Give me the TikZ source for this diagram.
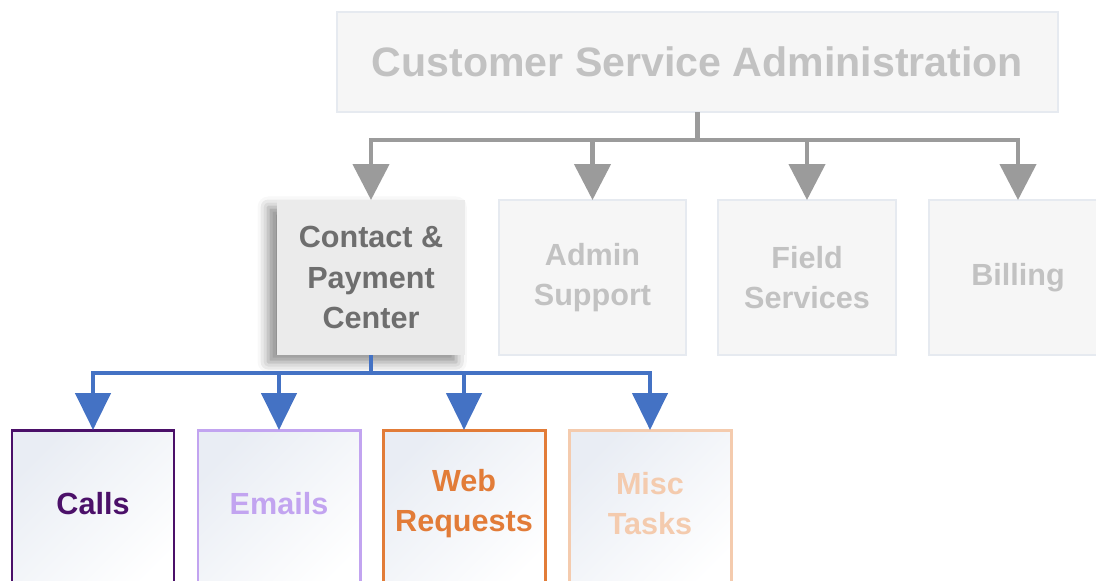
\documentclass[tikz,border=0pt]{standalone}
\usepackage{fontspec}
\setmainfont{Liberation Sans}
\definecolor{PaleFill}{HTML}{F6F6F6}
\definecolor{PaleEdge}{HTML}{E6EAF0}
\definecolor{PaleText}{HTML}{C2C2C2}
\definecolor{CenterFill}{HTML}{EBEBEB}
\definecolor{CenterText}{HTML}{6E6E6E}
\definecolor{LineGray}{HTML}{9B9B9B}
\definecolor{LineBlue}{HTML}{4472C4}
\definecolor{TaskShade}{HTML}{E9EDF4}
\definecolor{CallsPurple}{HTML}{4B1069}
\definecolor{EmailsLilac}{HTML}{C2A4F0}
\definecolor{WebOrange}{HTML}{E27C38}
\definecolor{MiscPeach}{HTML}{F4CBAE}
\usetikzlibrary{arrows.meta,positioning,shadows.blur}

\begin{document}
\begin{tikzpicture}[
  font=\bfseries\fontsize{17.4}{22.8}\selectfont,
  box/.style={align=center, inner sep=0pt, outer sep=0pt, minimum height=3.1cm, anchor=north west},
  dimbox/.style={box, draw=PaleEdge, line width=1.1pt, fill=PaleFill, text=PaleText},
  taskbox/.style={box, line width=1.7pt, minimum width=3.24cm, minimum height=3.4cm,
    top color=TaskShade, bottom color=white, shading angle=45},
  tasktext/.style={yshift=0.22cm},
  grayarrow/.style={draw=LineGray, line width=2.6pt, -{Triangle[length=0.72cm,width=0.72cm]}},
  bluearrow/.style={draw=LineBlue, line width=2.6pt, -{Triangle[length=0.74cm,width=0.7cm]}}
 ]

 \clip (0,0) rectangle (21.92,-11.6);

 % top level
 \node (csa) [dimbox, minimum width=14.42cm, minimum height=2cm,
   font=\bfseries\fontsize{23.4}{28}\selectfont] at (6.74,-0.24) {Customer Service Administration};

 % departments
 \node (contact) [box, minimum width=3.76cm, fill=CenterFill, text=CenterText,
   blur shadow={shadow xshift=-5pt, shadow yshift=-4pt, shadow blur radius=6pt, shadow opacity=45}]
   at (5.54,-4.0) {Contact \&\\Payment\\Center};
 \node (admin) [dimbox, minimum width=3.74cm, right=0.68cm of contact] {Admin\\Support};
 \node (field) [dimbox, minimum width=3.56cm, right=0.64cm of admin] {Field\\Services};
 \node (billing) [dimbox, minimum width=3.56cm, right=0.66cm of field] {Billing};

 % tasks
 \node (calls) [taskbox, draw=CallsPurple,
   label={[tasktext, text=CallsPurple]center:Calls}] at (0.24,-8.6) {};
 \node (emails) [taskbox, draw=EmailsLilac, right=0.48cm of calls,
   label={[tasktext, text=EmailsLilac]center:Emails}] {};
 \node (web) [taskbox, draw=WebOrange, right=0.46cm of emails,
   label={[tasktext, text=WebOrange, align=center]center:Web\\Requests}] {};
 \node (misc) [taskbox, draw=MiscPeach, right=0.48cm of web,
   label={[tasktext, text=MiscPeach, align=center]center:Misc\\Tasks}] {};

 \foreach \dept in {contact,admin,field,billing}
  \draw[grayarrow] (csa.south) -- ++(0,-0.56) -| (\dept.north);

 \foreach \task in {calls,emails,web,misc}
  \draw[bluearrow] (contact.south) -- ++(0,-0.36) -| (\task.north);

\end{tikzpicture}
\end{document}
